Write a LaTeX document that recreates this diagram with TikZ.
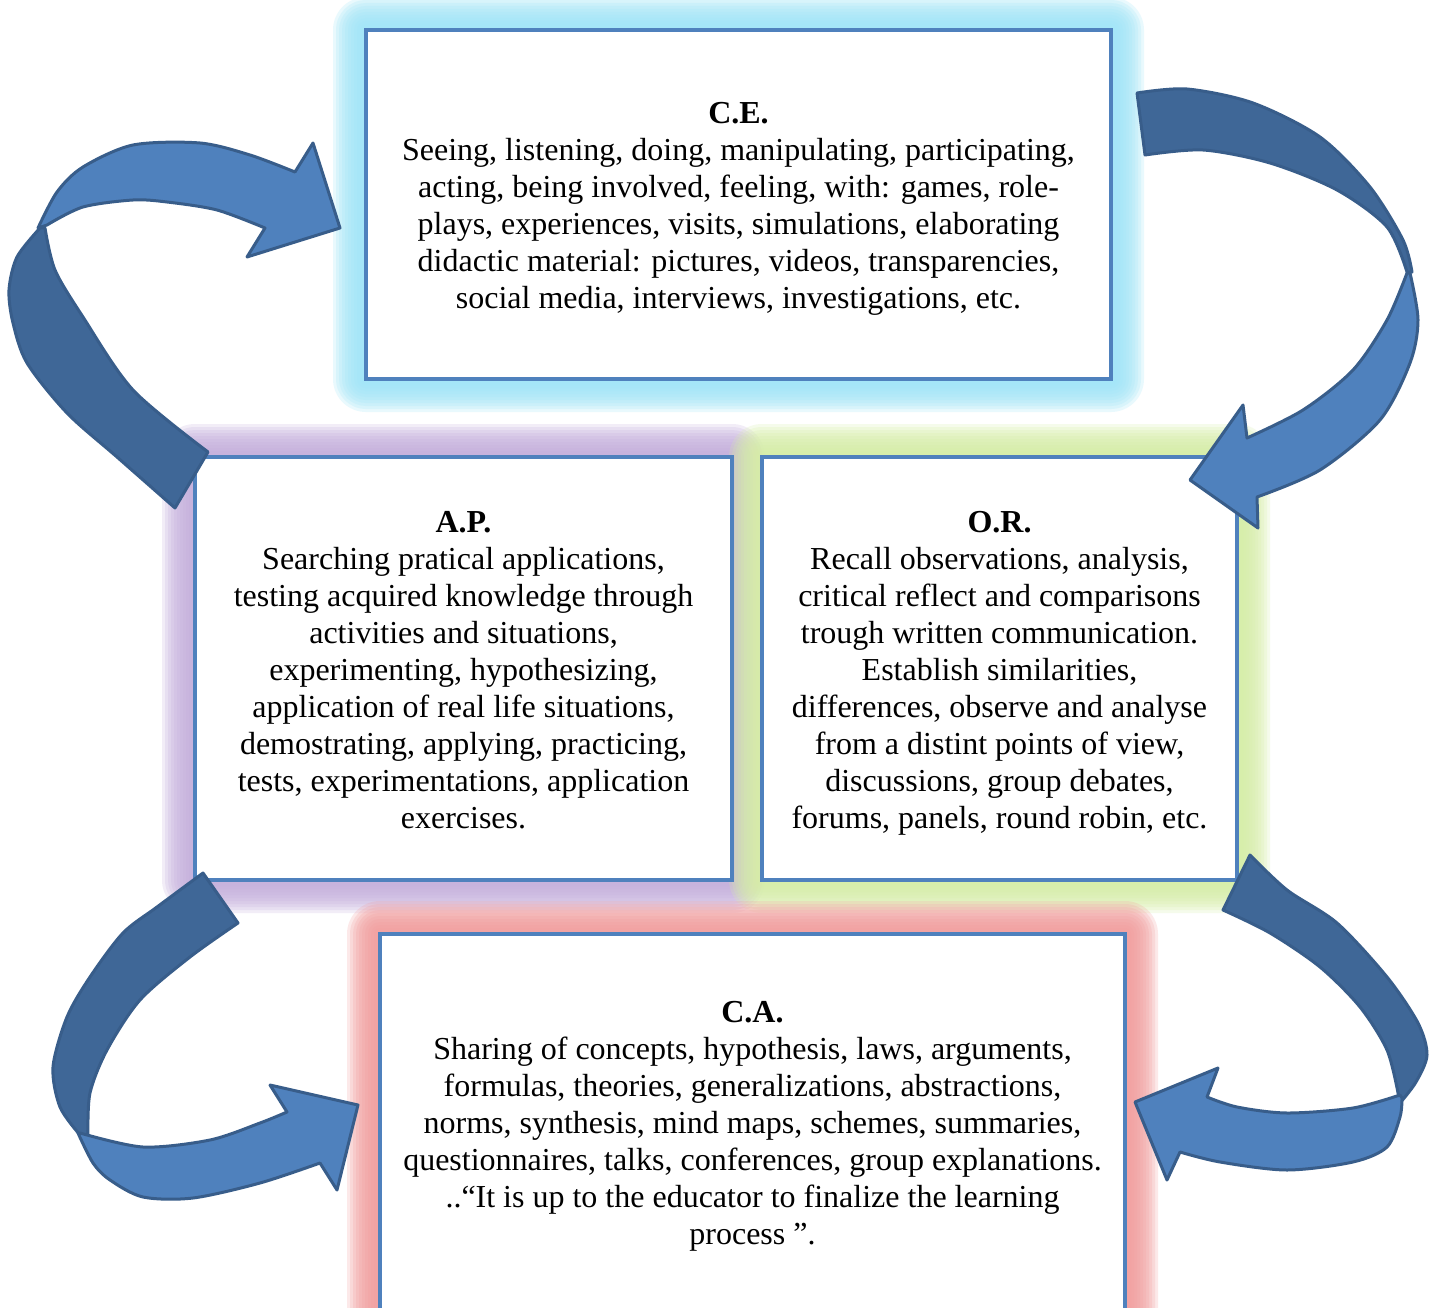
\documentclass[tikz,border=0pt]{standalone}
\usepackage{fontspec}
\setmainfont{Liberation Serif}
\definecolor{boxline}{HTML}{4F81BD}
\definecolor{arrlight}{HTML}{4F81BD}
\definecolor{arrdark}{HTML}{3F6797}
\definecolor{arrline}{HTML}{385D8A}
\definecolor{glowcyan}{HTML}{9FE6F8}
\definecolor{glowpurple}{HTML}{C4AEDC}
\definecolor{glowgreen}{HTML}{D6EEA6}
\definecolor{glowred}{HTML}{F29C9C}
\newcommand\glowrect[5]{%
  \foreach \d in {33,30,27,24,21,18,15,12,9,6}{%
    \fill[#1, fill opacity=0.22, rounded corners=\d pt] ({#2-\d},{#3-\d}) rectangle ({#4+\d},{#5+\d});
  }}
\tikzset{
  boxshape/.style={draw=boxline, line width=3.5pt, fill=white, inner sep=0pt},
  boxtext/.style={align=center, font=\fontsize{32}{37}\selectfont, inner sep=0pt},
  arrowdark/.style={fill=arrdark, draw=arrline, line width=3pt, line join=round},
  arrowlight/.style={fill=arrlight, draw=arrline, line width=3pt, line join=round}
}
\begin{document}
\begin{tikzpicture}[x=1pt,y=-1pt]
\clip (0,0) rectangle (1435,1308);
\fill[white] (0,0) rectangle (1435,1308);
% glows
\glowrect{glowcyan}{366}{30}{1111}{379}
\glowrect{glowpurple}{195}{457}{732}{880}
\glowrect{glowgreen}{762}{457}{1237}{880}
\glowrect{glowred}{380}{934}{1125}{1311}
% boxes
\node[boxshape, minimum width=745pt, minimum height=349pt] (ce) at (738.5,204.5) {};
\node[boxshape, minimum width=537pt, minimum height=423pt] (ap) at (463.5,668.5) {};
\node[boxshape, minimum width=475pt, minimum height=423pt] (or) at (999.5,668.5) {};
\node[boxshape, minimum width=745pt, minimum height=377pt] (ca) at (752.5,1122.5) {};
% texts
\node[boxtext] (ce-t) at (738.5,209)
 {\textbf{C.E.}\\Seeing, listening, doing, manipulating, participating,\\acting, being involved, feeling, with: games, role-\\plays, experiences, visits, simulations, elaborating\\didactic material: pictures, videos, transparencies,\\social media, interviews, investigations, etc.};
\node[boxtext] (ap-t) at (463.5,670.5)
 {\textbf{A.P.}\\Searching pratical applications,\\testing acquired knowledge through\\activities and situations,\\experimenting, hypothesizing,\\application of real life situations,\\demostrating, applying, practicing,\\tests, experimentations, application\\exercises.};
\node[boxtext] (or-t) at (999.5,673)
 {\textbf{O.R.}\\Recall observations, analysis,\\critical reflect and comparisons\\trough written communication.\\Establish similarities,\\differences, observe and analyse\\from a distint points of view,\\discussions, group debates,\\forums, panels, round robin, etc.};
\node[boxtext] (ca-t) at (752.5,1126.5)
 {\textbf{C.A.}\\Sharing of concepts, hypothesis, laws, arguments,\\formulas, theories, generalizations, abstractions,\\norms, synthesis, mind maps, schemes, summaries,\\questionnaires, talks, conferences, group explanations.\\..“It is up to the educator to finalize the learning\\process ”.};
% arrow top-left (A.P. -> C.E.)
\filldraw[arrowdark] plot[smooth] coordinates {(40,228) (17,257) (9,290) (13,323) (27,363) (67,413) (117,457) (175,508)} -- plot[smooth] coordinates {(208,452) (133,390) (83,317) (55,270) (45,228)} -- cycle;
\filldraw[arrowlight] plot[smooth] coordinates {(38,228) (57,192) (83,167) (133,145) (200,143) (250,155) (295,172)} -- (313,143) -- (340,228) -- (247,257) -- plot[smooth] coordinates {(265,228) (217,210) (167,202) (133,200) (83,207) (47,225)} -- cycle;
% arrow top-right (C.E. -> O.R.)
\filldraw[arrowdark] plot[smooth] coordinates {(1137,93) (1187,89) (1253,103) (1320,137) (1370,187) (1403,240) (1412,272)} -- plot[smooth] coordinates {(1407,272) (1387,227) (1337,190) (1270,163) (1203,150) (1145,155)} -- cycle;
\filldraw[arrowlight] plot[smooth] coordinates {(1410,273) (1418,320) (1410,363) (1380,420) (1320,470) (1257,497)} -- (1258,528) -- (1190,480) -- (1243,405) -- plot[smooth] coordinates {(1247,438) (1303,410) (1353,370) (1387,320) (1407,273)} -- cycle;
% arrow bottom-left (A.P. -> C.A.)
\filldraw[arrowdark] plot[smooth] coordinates {(203,873) (157,907) (123,933) (90,977) (67,1017) (53,1067) (60,1107) (80,1135)} -- plot[smooth] coordinates {(88,1135) (90,1093) (107,1050) (140,1000) (190,957) (238,923)} -- cycle;
\filldraw[arrowlight] plot[smooth] coordinates {(80,1133) (143,1147) (210,1140) (260,1123) (287,1112)} -- (270,1085) -- (358,1105) -- (337,1190) -- plot[smooth] coordinates {(320,1163) (260,1183) (193,1198) (143,1197) (110,1180) (93,1163) (78,1133)} -- cycle;
% arrow bottom-right (O.R. -> C.A.)
\filldraw[arrowdark] plot[smooth] coordinates {(1250,855) (1287,890) (1337,923) (1387,977) (1418,1023) (1427,1055) (1416,1082) (1400,1103)} -- plot[smooth] coordinates {(1398,1093) (1387,1050) (1360,1007) (1320,967) (1270,933) (1223,910)} -- cycle;
\filldraw[arrowlight] plot[smooth] coordinates {(1400,1095) (1353,1108) (1287,1113) (1237,1107) (1207,1097)} -- (1218,1068) -- (1135,1102) -- (1167,1180) -- plot[smooth] coordinates {(1180,1152) (1220,1162) (1287,1170) (1353,1162) (1387,1147) (1400,1117) (1402,1098)} -- cycle;
\end{tikzpicture}
\end{document}
